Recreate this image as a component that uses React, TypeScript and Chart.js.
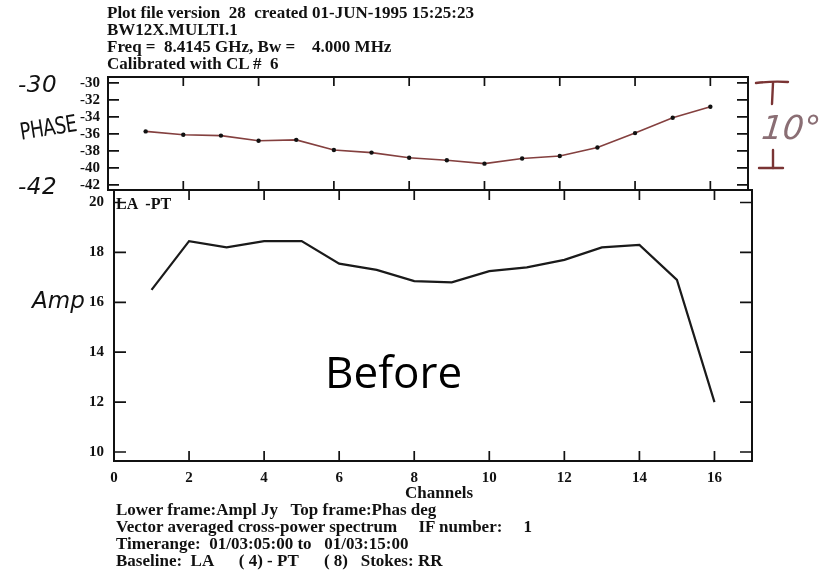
import React, { useEffect, useRef } from "react";
import { Chart, registerables } from "chart.js";

Chart.register(...registerables);

// Cross-power spectrum, baseline LA-PT, 16 channels
const CHANNELS = [1, 2, 3, 4, 5, 6, 7, 8, 9, 10, 11, 12, 13, 14, 15, 16];
const PHASE_DEG = [-35.7, -36.1, -36.2, -36.8, -36.7, -37.9, -38.2, -38.8, -39.1, -39.5, -38.9, -38.6, -37.6, -35.9, -34.1, -32.8];
const AMP_JY = [16.5, 18.45, 18.2, 18.45, 18.45, 17.55, 17.3, 16.85, 16.8, 17.25, 17.4, 17.7, 18.2, 18.3, 16.9, 12.0];

const CHANNEL_TICKS = [0, 2, 4, 6, 8, 10, 12, 14, 16];
const PHASE_TICKS = [-30, -32, -34, -36, -38, -40, -42];
const AMP_TICKS = [10, 12, 14, 16, 18, 20];

const HEADER_LINES = [
  "Plot file version  28  created 01-JUN-1995 15:25:23",
  "BW12X.MULTI.1",
  "Freq =  8.4145 GHz, Bw =    4.000 MHz",
  "Calibrated with CL #  6",
];
const FOOTER_LINES = [
  "Lower frame:Ampl Jy   Top frame:Phas deg",
  "Vector averaged cross-power spectrum     IF number:     1",
  "Timerange:  01/03:05:00 to   01/03:15:00",
  "Baseline:  LA      ( 4) - PT      ( 8)   Stokes: RR",
];

const W = 823;
const H = 570;
const SERIF = '"Liberation Serif", "Times New Roman", serif';
const HAND = '"DejaVu Sans", sans-serif';
const INK = "#111";

// Boxed frame with inward-pointing ticks on all four sides
const frameTicks = {
  id: "frameTicks",
  afterDraw(chart: any, _args: any, opts: any) {
    const { ctx, chartArea: a, scales } = chart;
    const xs = scales.x;
    const ys = scales.y;
    const len = opts.len ?? 10;
    ctx.save();
    ctx.strokeStyle = INK;
    ctx.lineWidth = 2;
    ctx.strokeRect(a.left, a.top, a.right - a.left, a.bottom - a.top);
    ctx.lineWidth = 1.7;
    ctx.beginPath();
    for (const t of xs.ticks) {
      const px = xs.getPixelForValue(t.value);
      ctx.moveTo(px, a.bottom);
      ctx.lineTo(px, a.bottom - len);
      ctx.moveTo(px, a.top);
      ctx.lineTo(px, a.top + len);
    }
    for (const t of ys.ticks) {
      const py = ys.getPixelForValue(t.value);
      ctx.moveTo(a.left, py);
      ctx.lineTo(a.left + len + 2, py);
      ctx.moveTo(a.right, py);
      ctx.lineTo(a.right - len - 2, py);
    }
    ctx.stroke();
    ctx.restore();
  },
};

const tickFont = (size: number) => ({ family: SERIF, size, weight: "bold" as const });

function useChart(ref: React.RefObject<HTMLCanvasElement | null>, build: () => any) {
  useEffect(() => {
    if (!ref.current) return;
    const chart = new Chart(ref.current, build());
    return () => chart.destroy();
  }, []);
}

function PhaseFrame() {
  const ref = useRef<HTMLCanvasElement | null>(null);
  useChart(ref, () => ({
    type: "line",
    data: {
      datasets: [
        {
          data: CHANNELS.map((c, i) => ({ x: c, y: PHASE_DEG[i] })),
          borderColor: "#84403f",
          borderWidth: 1.6,
          pointRadius: 2.2,
          pointBackgroundColor: INK,
          pointBorderColor: INK,
          pointBorderWidth: 0,
          tension: 0,
        },
      ],
    },
    options: {
      animation: false,
      responsive: false,
      layout: { padding: { left: 0, top: 77, right: W - 748, bottom: H - 190 } },
      plugins: { legend: { display: false }, tooltip: { enabled: false }, frameTicks: { len: 9 } },
      scales: {
        x: {
          type: "linear",
          min: 0,
          max: 17,
          afterBuildTicks: (s: any) => { s.ticks = CHANNEL_TICKS.map((v) => ({ value: v })); },
          grid: { display: false, drawTicks: false },
          border: { display: false },
          ticks: { display: false },
          afterFit: (s: any) => { s.height = 0; },
        },
        y: {
          min: -42.6,
          max: -29.3,
          afterBuildTicks: (s: any) => { s.ticks = PHASE_TICKS.map((v) => ({ value: v })); },
          grid: { display: false, drawTicks: false },
          border: { display: false },
          ticks: { font: tickFont(15), color: INK, padding: 8, autoSkip: false },
          afterFit: (s: any) => { s.width = 108; },
        },
      },
    },
    plugins: [frameTicks],
  }));
  return <canvas ref={ref} width={W} height={H} style={{ position: "absolute", left: 0, top: 0 }} />;
}

function AmpFrame() {
  const ref = useRef<HTMLCanvasElement | null>(null);
  useChart(ref, () => ({
    type: "line",
    data: {
      datasets: [
        {
          data: CHANNELS.map((c, i) => ({ x: c, y: AMP_JY[i] })),
          borderColor: "#1a1a1a",
          borderWidth: 2.2,
          pointRadius: 0,
          tension: 0,
        },
      ],
    },
    options: {
      animation: false,
      responsive: false,
      layout: { padding: { left: 0, top: 190, right: W - 752, bottom: H - 461 - 40 } },
      plugins: { legend: { display: false }, tooltip: { enabled: false }, frameTicks: { len: 10 } },
      scales: {
        x: {
          type: "linear",
          min: 0,
          max: 17,
          afterBuildTicks: (s: any) => { s.ticks = CHANNEL_TICKS.map((v) => ({ value: v })); },
          grid: { display: false, drawTicks: false },
          border: { display: false },
          ticks: { font: tickFont(15), color: INK, padding: 8, maxRotation: 0, autoSkip: false },
          afterFit: (s: any) => { s.height = 40; },
        },
        y: {
          min: 9.64,
          max: 20.5,
          afterBuildTicks: (s: any) => { s.ticks = AMP_TICKS.map((v) => ({ value: v })); },
          grid: { display: false, drawTicks: false },
          border: { display: false },
          ticks: { font: tickFont(15), color: INK, padding: 10, autoSkip: false },
          afterFit: (s: any) => { s.width = 114; },
        },
      },
    },
    plugins: [frameTicks],
  }));
  return <canvas ref={ref} width={W} height={H} style={{ position: "absolute", left: 0, top: 0 }} />;
}

const abs = (left: number, top: number, extra: React.CSSProperties = {}): React.CSSProperties => ({
  position: "absolute",
  left,
  top,
  whiteSpace: "pre",
  margin: 0,
  ...extra,
});

export default function App() {
  const serifText: React.CSSProperties = { fontFamily: SERIF, fontWeight: "bold", fontSize: 17, lineHeight: "17px", color: INK };
  return (
    <div style={{ position: "fixed", left: 0, top: 0, width: W, height: H, background: "#fff", overflow: "hidden" }}>
      <AmpFrame />
      <PhaseFrame />

      <div style={abs(107, 4, serifText)}>
        {HEADER_LINES.map((l) => <div key={l}>{l}</div>)}
      </div>

      <div style={abs(116, 195, { ...serifText, fontSize: 16, lineHeight: "17px" })}>LA  -PT</div>
      <div style={abs(405, 484, { ...serifText, fontSize: 17, lineHeight: "17px" })}>Channels</div>

      <div style={abs(116, 501, serifText)}>
        {FOOTER_LINES.map((l) => <div key={l}>{l}</div>)}
      </div>

      <div style={abs(325, 346, { fontFamily: '"Open Sans", sans-serif', fontSize: 44, lineHeight: "50px", color: "#000" })}>Before</div>

      {/* hand-written margin notes */}
      <div style={abs(18, 71, { fontFamily: HAND, fontStyle: "italic", fontSize: 23, lineHeight: "26px", color: INK, letterSpacing: "0.5px" })}>-30</div>
      <div style={abs(20, 122, { fontFamily: HAND, fontSize: 18, lineHeight: "20px", color: INK, transform: "rotate(-9deg) scaleY(1.3)", transformOrigin: "left center", letterSpacing: "-0.5px" })}>PHASE</div>
      <div style={abs(18, 173, { fontFamily: HAND, fontStyle: "italic", fontSize: 23, lineHeight: "26px", color: INK, letterSpacing: "0.5px" })}>-42</div>
      <div style={abs(32, 286, { fontFamily: HAND, fontStyle: "italic", fontSize: 23, lineHeight: "28px", color: INK })}>Amp</div>

      <svg width={W} height={H} style={{ position: "absolute", left: 0, top: 0, pointerEvents: "none" }}>
        <g stroke="#7a3434" strokeWidth={2.4} strokeLinecap="round" fill="none">
          <path d="M756 83 Q772 81 788 82" />
          <path d="M773 83 L772 104" />
          <path d="M773 150 L773 168" />
          <path d="M759 168 L783 168" />
        </g>
      </svg>
      <div style={abs(762, 108, { fontFamily: HAND, fontWeight: 200, fontStyle: "italic", fontSize: 33, lineHeight: "40px", color: "#8a6e74", transform: "skewX(-6deg)" })}>10°</div>
    </div>
  );
}
